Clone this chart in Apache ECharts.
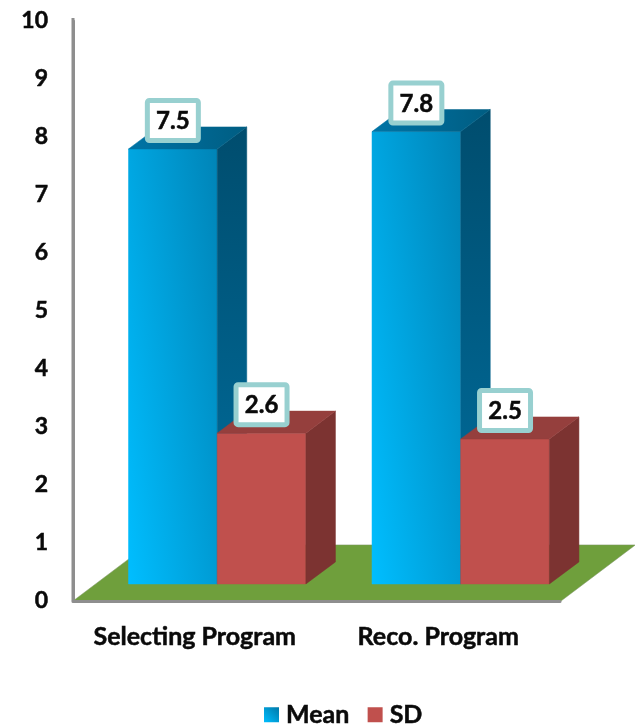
<!DOCTYPE html>
<html>
<head>
<meta charset="utf-8">
<style>html,body{margin:0;padding:0;background:#fff}#c{width:635px;height:724px}</style>
<script src="https://cdn.jsdelivr.net/npm/echarts@6/dist/echarts.min.js"></script>
</head>
<body>
<div id="c"></div>
<script>
const categories = ['Selecting Program', 'Reco. Program'];
const meanValues = [7.5, 7.8];
const sdValues = [2.6, 2.5];
const yTicks = [0, 1, 2, 3, 4, 5, 6, 7, 8, 9, 10];
const FONT = 'Lato, "Open Sans", sans-serif';
const INK = '#0a0a0a';

const chart = echarts.init(document.getElementById('c'), null, {renderer: 'canvas'});
const G = echarts.graphic;
const stops = (a, b) => [{offset: 0, color: a}, {offset: 1, color: b}];
const grad = (x, y, x2, y2, a, b) => new G.LinearGradient(x, y, x2, y2, stops(a, b));

// depth of the 3D box projection, as fractions of the category band
const GAP = {dx: 22.4 / 243, dy: 17 / 243};
const DEPTH = {dx: 29.5 / 243, dy: 22 / 243};
const BAR = 88.5 / 243;

const poly = (points, fill, stroke) => ({
  type: 'polygon',
  shape: {points},
  style: {fill, stroke: stroke || fill, lineWidth: 0.5}
});

function floorItem(params, api) {
  const band = api.size([1, 0])[0];
  const a = api.coord([0, 0]);
  const b = api.coord([categories.length - 1, 0]);
  const top = api.coord([0, 10]);
  const x0 = a[0] - band / 2, x1 = b[0] + band / 2 + 1, y = a[1];
  const dx = 2 * GAP.dx * band + DEPTH.dx * band, dy = 2 * GAP.dy * band + DEPTH.dy * band;
  return {
    type: 'group',
    children: [
      poly([[x0, y], [x1, y], [x1 + dx, y - dy], [x0 + dx, y - dy]], '#6f9f3c', '#7f9468'),
      {type: 'line', shape: {x1: x0, y1: y, x2: x0, y2: top[1] - 3},
        style: {stroke: '#8e8e8e', lineWidth: 3}}
    ]
  };
}

function barItem(side, palette) {
  return function (params, api) {
    const cat = api.value(0), val = api.value(1);
    const band = api.size([1, 0])[0];
    const base = api.coord([cat, 0]);
    const tip = api.coord([cat, val]);
    const w = BAR * band;
    const gx = GAP.dx * band, gy = GAP.dy * band;
    const dx = DEPTH.dx * band, dy = DEPTH.dy * band;
    const l = base[0] + gx + (side === 0 ? -w : 0);
    const r = l + w;
    const yb = base[1] - gy, yt = tip[1] - gy;
    const cx = (l + r) / 2;
    const lblY = yt - 28.5;
    return {
      type: 'group',
      children: [
        poly([[l, yb], [r, yb], [r, yt], [l, yt]], palette.front(l, r, yb, yt)),
        poly([[r, yb], [r + dx, yb - dy], [r + dx, yt - dy], [r, yt]], palette.side),
        poly([[l, yt], [r, yt], [r + dx, yt - dy], [l + dx, yt - dy]], palette.top),
        {type: 'rect', z2: 10, shape: {x: cx - 25.5, y: lblY - 20, width: 51, height: 40, r: 2},
          style: {fill: '#fff', stroke: '#98d0d0', lineWidth: 5}},
        {type: 'text', z2: 11, style: {x: cx, y: lblY + 1, text: val.toFixed(1), fill: INK,
          stroke: INK, lineWidth: 0.5,
          font: 'bold 24px ' + FONT, align: 'center', verticalAlign: 'middle'}}
      ]
    };
  };
}

const meanPalette = {
  // mostly left-to-right sheen, with a slight darkening towards the top
  front: (l, r, yb) => new G.LinearGradient(l, yb, l + 2 * (r - l), yb - 0.28 * (r - l),
    stops('#00beff', '#0078a8'), true),
  side: grad(0, 1, 0, 0, '#006fa0', '#004d6e'),
  top: grad(0, 0, 1, 0, '#0074a6', '#005d82')
};
const sdPalette = {front: () => '#c0504d', side: '#7c3331', top: '#953f3d'};
const seriesData = vals => vals.map((v, i) => [i, v]);

const labelText = {fontFamily: FONT, fontWeight: 'bold', color: INK, textBorderColor: INK, textBorderWidth: 0.5};

chart.setOption({
  animation: false,
  backgroundColor: '#fff',
  grid: {left: 73, right: 75, top: 21, height: 580},
  legend: {
    data: ['Mean', 'SD'],
    left: 264, top: 702, padding: 0,
    itemWidth: 15, itemHeight: 15, itemGap: 18,
    icon: 'rect',
    textStyle: {...labelText, fontSize: 25, padding: [0, 0, 0, 2]}
  },
  xAxis: {
    type: 'category', data: categories, z: 5,
    axisTick: {show: false},
    axisLine: {lineStyle: {color: '#8e8e8e', width: 3}},
    axisLabel: {...labelText, margin: 23, fontSize: 25, interval: 0}
  },
  yAxis: {
    type: 'value', min: yTicks[0], max: yTicks[yTicks.length - 1], interval: 1,
    splitLine: {show: false},
    axisTick: {show: false},
    axisLine: {show: true, lineStyle: {color: '#8e8e8e', width: 3}},
    axisLabel: {...labelText, margin: 25, fontSize: 23, padding: [5, 0, 0, 0]}
  },
  series: [
    {type: 'custom', name: 'floor', silent: true, z: 1, renderItem: floorItem, data: [[0, 0]], encode: {x: 0, y: 1}},
    {type: 'custom', name: 'Mean', z: 2, renderItem: barItem(0, meanPalette), data: seriesData(meanValues),
      encode: {x: 0, y: 1}, itemStyle: {color: grad(0, 1, 1, 0, '#00beff', '#0078a8')}},
    {type: 'custom', name: 'SD', z: 3, renderItem: barItem(1, sdPalette), data: seriesData(sdValues),
      encode: {x: 0, y: 1}, itemStyle: {color: '#c0504d'}}
  ]
});
</script>
</body>
</html>
